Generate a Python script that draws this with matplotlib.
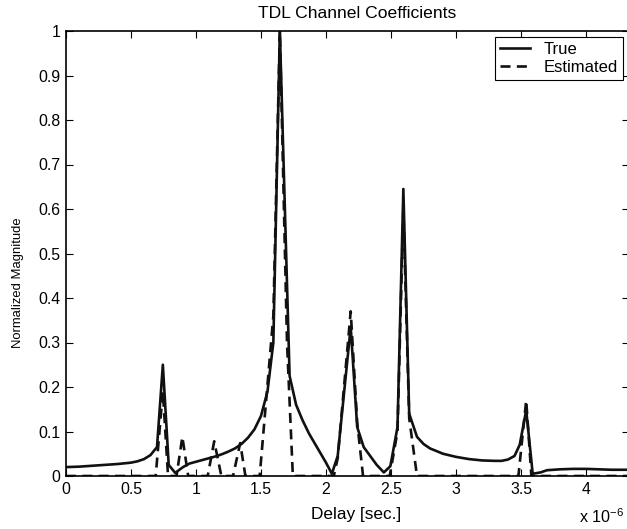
import matplotlib
matplotlib.use("Agg")
import matplotlib.pyplot as plt

# Delay values in microseconds (axis scaled by 1e-6)
true_delay = [0.0, 0.1, 0.2, 0.3, 0.4, 0.5, 0.55, 0.6, 0.65, 0.70, 0.745, 0.79, 0.84,
              0.90, 0.95, 1.0, 1.05, 1.1, 1.15, 1.2, 1.25, 1.3, 1.35, 1.4, 1.45, 1.5,
              1.55, 1.595, 1.645, 1.72, 1.77, 1.82, 1.87, 1.92, 1.97, 2.0, 2.045, 2.09,
              2.19, 2.24, 2.29, 2.34, 2.39, 2.445, 2.495, 2.55, 2.595, 2.64, 2.70, 2.75,
              2.8, 2.9, 3.0, 3.1, 3.2, 3.3, 3.35, 3.4, 3.45, 3.49, 3.54, 3.59, 3.65,
              3.7, 3.8, 3.9, 4.0, 4.1, 4.2, 4.33]
true_mag = [0.020, 0.021, 0.023, 0.025, 0.027, 0.030, 0.033, 0.038, 0.047, 0.065, 0.25,
            0.025, 0.007, 0.020, 0.028, 0.032, 0.036, 0.040, 0.044, 0.049, 0.055, 0.062,
            0.072, 0.086, 0.105, 0.135, 0.19, 0.30, 1.0, 0.225, 0.16, 0.125, 0.095, 0.07,
            0.045, 0.03, 0.005, 0.045, 0.335, 0.11, 0.065, 0.045, 0.025, 0.008, 0.022,
            0.11, 0.645, 0.14, 0.088, 0.072, 0.062, 0.05, 0.043, 0.038, 0.035, 0.034,
            0.034, 0.037, 0.045, 0.07, 0.148, 0.005, 0.008, 0.013, 0.015, 0.016, 0.016,
            0.015, 0.014, 0.014]

est_delay = [0.0, 0.69, 0.745, 0.785, 0.85, 0.895, 0.94, 1.09, 1.14, 1.195, 1.285, 1.34,
             1.38, 1.49, 1.595, 1.645, 1.70, 1.745, 2.06, 2.09, 2.19, 2.24, 2.285, 2.49,
             2.55, 2.595, 2.64, 2.70, 3.48, 3.54, 3.58, 4.33]
est_mag = [0, 0, 0.19, 0, 0, 0.088, 0, 0, 0.078, 0, 0, 0.074, 0, 0, 0.36, 1.0, 0.30,
           0, 0, 0.04, 0.37, 0.12, 0, 0, 0.10, 0.60, 0.13, 0, 0, 0.17, 0, 0]

x_ticks = [0, 0.5, 1, 1.5, 2, 2.5, 3, 3.5, 4]
x_tick_labels = ["0", "0.5", "1", "1.5", "2", "2.5", "3", "3.5", "4"]
y_ticks = [0, 0.1, 0.2, 0.3, 0.4, 0.5, 0.6, 0.7, 0.8, 0.9, 1.0]
y_tick_labels = ["0", "0.1", "0.2", "0.3", "0.4", "0.5", "0.6", "0.7", "0.8", "0.9", "1"]

plt.rcParams['font.family'] = ['Liberation Sans', 'DejaVu Sans']
plt.rcParams['mathtext.fontset'] = 'custom'
plt.rcParams['mathtext.rm'] = 'Liberation Sans'

W, H = 627, 529
fig = plt.figure(figsize=(W / 100, H / 100), dpi=100)
# right spine falls just outside the picture, as in the reference (cropped)
ax = fig.add_axes([66 / W, 1 - 476 / H, (628.5 - 66) / W, (476 - 31) / H])

ax.plot(true_delay, true_mag, color='#111111', lw=1.9, label='True')
ax.plot(est_delay, est_mag, color='#111111', lw=1.9, ls=(0, (3.8, 2.4)), label='Estimated')

ax.set_xlim(0, (628.5 - 66) / 130)
ax.set_ylim(0, 1)
ax.set_xticks(x_ticks)
ax.set_xticklabels(x_tick_labels)
ax.set_yticks(y_ticks)
ax.set_yticklabels(y_tick_labels)
ax.tick_params(direction='in', top=True, right=True, length=5, width=0.8,
               labelsize=11.4, pad=4)
for s in ax.spines.values():
    s.set_linewidth(1.2)

fig.text(357 / W, 1 - 18 / H, 'TDL Channel Coefficients', fontsize=12.6,
         ha='center', va='baseline')
fig.text(356 / W, 1 - 514 / H, 'Delay [sec.]', fontsize=12.4, ha='center', va='center')
fig.text(18 / W, 1 - 283 / H, 'Normalized Magnitude', fontsize=9.4, rotation=90,
         ha='center', va='center')
fig.text(579 / W, 1 - 523 / H, r'x 10$^{-6}$', fontsize=11.6, ha='left', va='baseline')

leg = ax.legend(loc='upper right', bbox_to_anchor=(623 / W, 1 - 37 / H),
                bbox_transform=fig.transFigure, fontsize=12, frameon=True,
                fancybox=False, edgecolor='black', framealpha=1, borderaxespad=0,
                handlelength=1.75, handletextpad=0.85, borderpad=0.3, labelspacing=0.2)
leg.get_frame().set_linewidth(0.8)

fig.savefig('out.png', dpi=100)
